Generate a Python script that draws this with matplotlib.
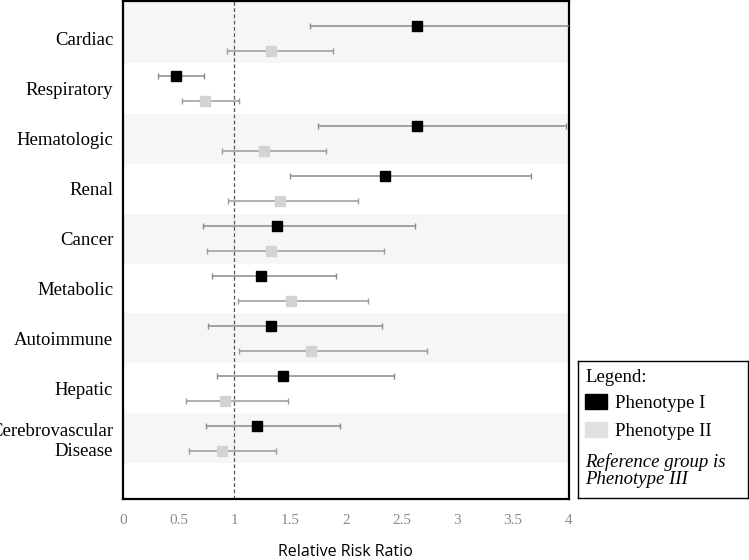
import matplotlib
matplotlib.use('Agg')
import matplotlib.pyplot as plt
import numpy as np
from matplotlib.patches import Rectangle

# Categories (top to bottom)
categories = ['Cardiac', 'Respiratory', 'Hematologic', 'Renal', 'Cancer',
              'Metabolic', 'Autoimmune', 'Hepatic', 'Cerebrovascular\nDisease']

# Phenotype I relative risk ratios with 95% CI
p1_rr = [2.64, 0.475, 2.64, 2.35, 1.38, 1.24, 1.33, 1.435, 1.20]
p1_low = [1.68, 0.317, 1.75, 1.50, 0.72, 0.80, 0.765, 0.846, 0.747]
p1_high = [4.30, 0.726, 3.98, 3.665, 2.62, 1.91, 2.326, 2.437, 1.95]

# Phenotype II relative risk ratios with 95% CI
p2_rr = [1.33, 0.74, 1.27, 1.41, 1.33, 1.51, 1.69, 0.918, 0.89]
p2_low = [0.935, 0.526, 0.885, 0.945, 0.756, 1.037, 1.043, 0.562, 0.589]
p2_high = [1.89, 1.043, 1.82, 2.11, 2.34, 2.20, 2.73, 1.483, 1.372]

x_ticks = [0, 0.5, 1, 1.5, 2, 2.5, 3, 3.5, 4]
x_ticklabels = ['0', '0.5', '1', '1.5', '2', '2.5', '3', '3.5', '4']

serif = ['Liberation Serif', 'DejaVu Serif']

fig = plt.figure(figsize=(7.49, 5.6), dpi=100)
ax = fig.add_axes([123 / 749, 61 / 560, 445.5 / 749, 498 / 560])

n = len(categories)
pos = np.arange(n)

# alternating background bands
for i in range(n):
    if i % 2 == 0:
        top = -0.75 if i == 0 else i - 0.5
        ax.axhspan(top, i + 0.5, color='#f6f6f6', zorder=0, lw=0)

ax.axvline(1, color='#555555', lw=0.9, ls=(0, (3, 2)), zorder=1)

p1_rr = np.array(p1_rr)
p2_rr = np.array(p2_rr)
err1 = [p1_rr - np.array(p1_low), np.array(p1_high) - p1_rr]
err2 = [p2_rr - np.array(p2_low), np.array(p2_high) - p2_rr]

ax.errorbar(p1_rr, pos - 0.25, xerr=err1, fmt='s', color='black', ms=6.5,
            ecolor='#8a8a8a', elinewidth=1.1, capsize=2.2, capthick=1.0, zorder=3)
ax.errorbar(p2_rr, pos + 0.25, xerr=err2, fmt='s', color='#d3d3d3', ms=6.5,
            ecolor='#9a9a9a', elinewidth=1.1, capsize=2.2, capthick=1.0, zorder=3)

ax.set_xlim(0, 4)
ax.set_ylim(9.21, -0.75)
ax.set_yticks(pos)
ax.set_yticklabels(categories, family=serif, fontsize=13.5, color='black',
                   linespacing=1.2)
ax.set_xticks(x_ticks)
ax.set_xticklabels(x_ticklabels, family=serif, fontsize=11, color='#8a8a8a')
ax.tick_params(axis='both', length=0)
ax.tick_params(axis='x', pad=11)
ax.tick_params(axis='y', pad=7)
for s in ax.spines.values():
    s.set_linewidth(1.6)
    s.set_color('black')

ax.set_xlabel('Relative Risk Ratio', family='Open Sans', fontsize=11.5,
              labelpad=12)

# Legend box
lax = fig.add_axes([578 / 749, 62 / 560, 169.5 / 749, 137 / 560])
lax.set_xlim(0, 169.5)
lax.set_ylim(137, 0)
lax.set_xticks([])
lax.set_yticks([])
for s in lax.spines.values():
    s.set_linewidth(1.0)
    s.set_color('black')

lax.text(7, 16, 'Legend:', family=serif, fontsize=13.5, va='center', ha='left')
lax.add_patch(Rectangle((7, 33), 22, 15, color='black'))
lax.text(37, 42, 'Phenotype I', family=serif, fontsize=13.5, va='center', ha='left')
lax.add_patch(Rectangle((7, 61), 22, 15, color='#e0e0e0'))
lax.text(37, 70, 'Phenotype II', family=serif, fontsize=13.5, va='center', ha='left')
lax.text(7, 101, 'Reference group is', family=serif, fontsize=13.5,
         style='italic', va='center', ha='left')
lax.text(7, 119, 'Phenotype III', family=serif, fontsize=13.5,
         style='italic', va='center', ha='left')

fig.savefig('out.png', dpi=100)
